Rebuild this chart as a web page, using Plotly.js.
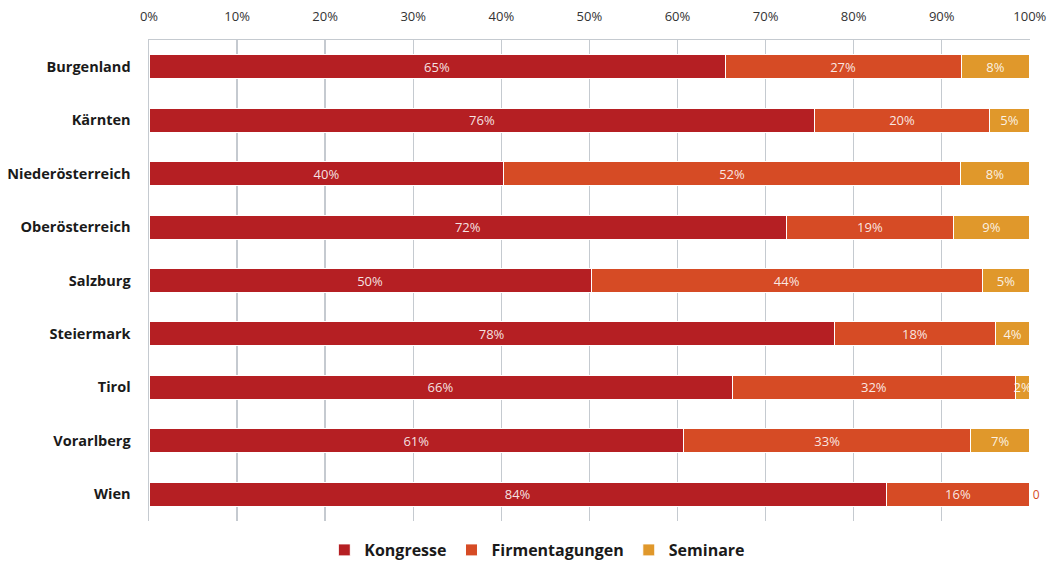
<!DOCTYPE html>
<html>
<head>
<meta charset="utf-8">
<script src="https://cdn.plot.ly/plotly-3.0.1.min.js"></script>
<style>html,body{margin:0;padding:0;background:#fff;}#chart{width:1053px;height:567px;}</style>
</head>
<body>
<div id="chart"></div>
<script>
const regions = ["Burgenland","Kärnten","Niederösterreich","Oberösterreich","Salzburg","Steiermark","Tirol","Vorarlberg","Wien"];
const kongresse = [65.4, 75.6, 40.3, 72.4, 50.2, 77.8, 66.2, 60.7, 83.7];
const firmentagungen = [26.8, 19.8, 51.8, 18.9, 44.4, 18.3, 32.2, 32.6, 16.3];
const seminare = [7.8, 4.6, 7.9, 8.7, 5.4, 3.9, 1.6, 6.7, 0];
const xTicks = [0,10,20,30,40,50,60,70,80,90,100];
const xTickLabels = xTicks.map(v => v + "%");

const lbl = arr => arr.map(v => v === 0 ? "0" : Math.round(v) + "%");
const mk = (name, vals, color) => ({
  type: "bar", orientation: "h", name: name, y: regions, x: vals,
  marker: {color: color, line: {color: "#ffffff", width: 1}},
  text: lbl(vals),
  textposition: vals.map(v => v === 0 ? "outside" : "inside"),
  insidetextanchor: "middle", textangle: 0,
  textfont: {family: "Open Sans, sans-serif", size: 13, color: "rgba(255,255,255,0.88)"},
  outsidetextfont: {family: "Open Sans, sans-serif", size: 12, color: "#d64b25"},
  constraintext: "none", cliponaxis: false, hoverinfo: "x+y+name"
});

const data = [
  mk("Kongresse", kongresse, "#b51f23"),
  mk("Firmentagungen", firmentagungen, "#d64b25"),
  mk("Seminare", seminare, "#e0982b")
];

const layout = {
  width: 1053, height: 567,
  margin: {l: 149, r: 23, t: 40, b: 46},
  barmode: "stack", bargap: 0.55,
  paper_bgcolor: "#fff", plot_bgcolor: "#fff",
  showlegend: true,
  legend: {orientation: "h", x: 0.199, xanchor: "left", yref: "container", y: 0.0, yanchor: "bottom",
    font: {family: "Open Sans, sans-serif", size: 16, color: "#1a1a1a", weight: 700},
    itemwidth: 30, traceorder: "normal"},
  xaxis: {
    side: "top", range: [0, 100.02], tickvals: xTicks, ticktext: xTickLabels,
    showgrid: true, gridcolor: "#c5cad0", gridwidth: 1.5,
    zeroline: false, showline: true, linecolor: "#c5cad0", linewidth: 1.5, mirror: false,
    ticks: "", ticklen: 0, ticklabelstandoff: 12,
    tickfont: {family: "Open Sans, sans-serif", size: 13, color: "#333"},
    fixedrange: true
  },
  yaxis: {
    autorange: "reversed", type: "category",
    showline: true, linecolor: "#c5cad0", linewidth: 1.5,
    ticks: "", ticklen: 0, showgrid: false,
    tickfont: {family: "Open Sans, sans-serif", size: 14.5, color: "#1a1a1a", weight: 700},
    ticklabelstandoff: 14,
    fixedrange: true
  }
};

Plotly.newPlot("chart", data, layout, {displayModeBar: false, staticPlot: true});
</script>
</body>
</html>
